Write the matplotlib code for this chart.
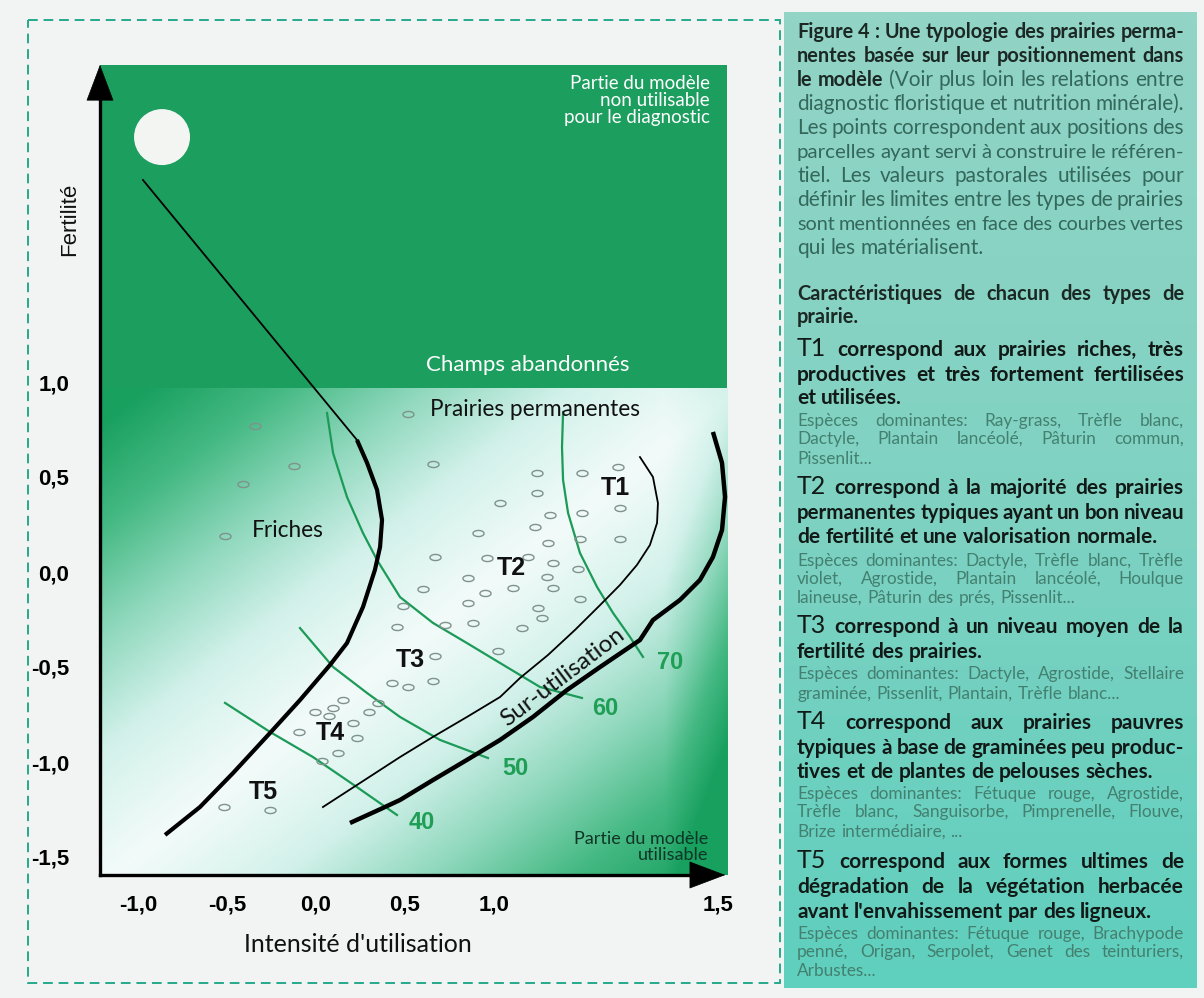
import numpy as np
import matplotlib
matplotlib.use('Agg')
import matplotlib.pyplot as plt
from matplotlib.patches import Rectangle, Ellipse
from matplotlib.path import Path
from matplotlib.colors import LinearSegmentedColormap

W, H = 1204, 998

# ---- values on the chart's own scale (intensity, fertility) ----
xtick_pos = [-1.0, -0.5, 0.0, 0.5, 1.0, 2.26]
xtick_lab = ['-1,0', '-0,5', '0,0', '0,5', '1,0', '1,5']
ytick_pos = [1.0, 0.5, 0.0, -0.5, -1.0, -1.5]
ytick_lab = ['1,0', '0,5', '0,0', '-0,5', '-1,0', '-1,5']

# parcels used to build the model
pts_x = [-0.343, -0.124, -0.410, -0.511, 0.517, 0.657, 0.669, 0.601, 0.489, 0.455,
         0.669, 1.242, 1.494, 1.697, 1.242, 1.034, 1.494, 1.708, 1.315, 1.230,
         0.910, 1.483, 1.708, 1.303, 0.961, 1.191, 1.331, 1.472, 1.298, 0.854,
         1.107, 1.331, 0.949, 1.483, 0.854, 1.247, 1.270, 0.725, 0.882, 1.157,
         1.022, 0.427, 0.517, 0.657, 0.152, 0.096, -0.006, 0.073, 0.348, 0.298,
         0.208, -0.096, 0.230, 0.124, 0.034, -0.517, -0.258]
pts_y = [0.768, 0.558, 0.463, 0.189, 0.832, 0.568, 0.079, -0.089, -0.179, -0.289,
         -0.442, 0.521, 0.521, 0.553, 0.416, 0.363, 0.311, 0.337, 0.300, 0.237,
         0.205, 0.174, 0.174, 0.153, 0.074, 0.079, 0.047, 0.016, -0.026, -0.032,
         -0.084, -0.084, -0.111, -0.142, -0.163, -0.189, -0.242, -0.279, -0.268, -0.295,
         -0.416, -0.584, -0.605, -0.574, -0.674, -0.716, -0.737, -0.758, -0.689, -0.737,
         -0.795, -0.842, -0.874, -0.953, -0.995, -1.237, -1.253]

# boundary Champs abandonnés / Friches (thin part) and Friches / prairies (thick)
abandon_x = [-0.972, 0.230]
abandon_y = [2.063, 0.695]
friches_x = [0.230, 0.287, 0.343, 0.371, 0.360, 0.331, 0.264, 0.174, 0.079, -0.090,
             -0.258, -0.466, -0.652, -0.848]
friches_y = [0.695, 0.574, 0.432, 0.274, 0.132, 0.011, -0.184, -0.374, -0.489, -0.674,
             -0.847, -1.058, -1.237, -1.384]
# over-use limits
surutil_x = [1.820, 1.893, 1.921, 1.916, 1.876, 1.803, 1.708, 1.596, 1.455, 1.303,
             1.146, 1.034, 0.848, 0.657, 0.472, 0.039]
surutil_y = [0.605, 0.500, 0.363, 0.258, 0.142, 0.037, -0.068, -0.174, -0.305, -0.437,
             -0.558, -0.658, -0.763, -0.868, -0.974, -1.237]
limit_x = [2.230, 2.281, 2.298, 2.281, 2.230, 2.157, 2.045, 1.893, 1.820, 1.596,
           1.410, 1.219, 1.034, 0.848, 0.657, 0.472, 0.376, 0.191]
limit_y = [0.737, 0.574, 0.395, 0.221, 0.079, -0.042, -0.147, -0.253, -0.358, -0.500,
           -0.621, -0.763, -0.884, -0.989, -1.095, -1.200, -1.242, -1.321]

# pastoral value curves
vp_labels = ['70', '60', '50', '40']
vp_x = [[1.388, 1.382, 1.388, 1.416, 1.483, 1.579, 1.669, 1.764, 1.837],
        [0.062, 0.096, 0.174, 0.264, 0.343, 0.472, 0.657, 0.848, 1.034, 1.258, 1.494],
        [-0.090, 0.096, 0.287, 0.472, 0.697, 0.966],
        [-0.511, -0.258, -0.017, 0.230, 0.455]]
vp_y = [[0.842, 0.658, 0.484, 0.311, 0.100, -0.079, -0.216, -0.342, -0.447],
        [0.837, 0.626, 0.395, 0.205, 0.063, -0.132, -0.268, -0.374, -0.479, -0.605, -0.663],
        [-0.295, -0.500, -0.637, -0.763, -0.884, -0.979],
        [-0.689, -0.842, -0.974, -1.132, -1.279]]
vp_lab_x = [1.989, 1.624, 1.118, 0.596]
vp_lab_y = [-0.474, -0.716, -1.032, -1.321]

types = ['T1', 'T2', 'T3', 'T4', 'T5']
types_x = [1.680, 1.096, 0.528, 0.079, -0.298]
types_y = [0.442, 0.021, -0.463, -0.847, -1.158]

# ---- right-hand text ----
text_lines = [
    (38, [('Figure 4 : Une typologie des prairies perma-', 'capb')], True),
    (62, [('nentes basée sur leur positionnement dans', 'capb')], True),
    (86, [('le modèle', 'capb'), ('(Voir plus loin les relations entre', 'cap')], True),
    (110, [('diagnostic floristique et nutrition minérale).', 'cap')], True),
    (134, [('Les points correspondent aux positions des', 'cap')], True),
    (158, [('parcelles ayant servi à construire le référen-', 'cap')], True),
    (182, [('tiel. Les valeurs pastorales utilisées pour', 'cap')], True),
    (206, [('définir les limites entre les types de prairies', 'cap')], True),
    (230, [('sont mentionnées en face des courbes vertes', 'cap')], True),
    (254, [('qui les matérialisent.', 'cap')], False),
    (300, [('Caractéristiques de chacun des types de', 'head')], True),
    (323, [('prairie.', 'head')], False),
    (356, [('T1', 'tnum'), ('correspond aux prairies riches, très', 'tb')], True),
    (381, [('productives et très fortement fertilisées', 'tb')], True),
    (404, [('et utilisées.', 'tb')], False),
    (426, [('Espèces dominantes: Ray-grass, Trèfle blanc,', 'sp')], True),
    (444, [('Dactyle, Plantain lancéolé, Pâturin commun,', 'sp')], True),
    (464, [('Pissenlit...', 'sp')], False),
    (494, [('T2', 'tnum'), ('correspond à la majorité des prairies', 'tb')], True),
    (519, [('permanentes typiques ayant un bon niveau', 'tb')], True),
    (543, [('de fertilité et une valorisation normale.', 'tb')], False),
    (566, [('Espèces dominantes: Dactyle, Trèfle blanc, Trèfle', 'sp')], True),
    (584, [('violet, Agrostide, Plantain lancéolé, Houlque', 'sp')], True),
    (603, [('laineuse, Pâturin des prés, Pissenlit...', 'sp')], False),
    (633, [('T3', 'tnum'), ('correspond à un niveau moyen de la', 'tb')], True),
    (658, [('fertilité des prairies.', 'tb')], False),
    (679, [('Espèces dominantes: Dactyle, Agrostide, Stellaire', 'sp')], True),
    (699, [('graminée, Pissenlit, Plantain, Trèfle blanc...', 'sp')], False),
    (729, [('T4', 'tnum'), ('correspond aux prairies pauvres', 'tb')], True),
    (754, [('typiques à base de graminées peu produc-', 'tb')], True),
    (778, [('tives et de plantes de pelouses sèches.', 'tb')], False),
    (799, [('Espèces dominantes: Fétuque rouge, Agrostide,', 'sp')], True),
    (817, [('Trèfle blanc, Sanguisorbe, Pimprenelle, Flouve,', 'sp')], True),
    (837, [('Brize intermédiaire, ...', 'sp')], False),
    (868, [('T5', 'tnum'), ('correspond aux formes ultimes de', 'tb')], True),
    (893, [('dégradation de la végétation herbacée', 'tb')], True),
    (918, [('avant l\'envahissement par des ligneux.', 'tb')], False),
    (939, [('Espèces dominantes: Fétuque rouge, Brachypode', 'sp')], True),
    (957, [('penné, Origan, Serpolet, Genet des teinturiers,', 'sp')], True),
    (976, [('Arbustes...', 'sp')], False),
]

styles = {
    'capb': dict(family='Lato', weight='bold', size=14.3, color='#1b2824'),
    'cap': dict(family='Lato', size=15, color='#33685b'),
    'head': dict(family='Lato', weight='bold', size=14.4, color='#1b2824'),
    'tnum': dict(family='Lato', size=18, color='#111a17'),
    'tb': dict(family='Lato', weight='bold', size=15, color='#111a17'),
    'sp': dict(family='Lato', size=12.4, color='#43806f'),
}

fig = plt.figure(figsize=(W / 100, H / 100), dpi=100)
fig.patch.set_facecolor('#f2f4f3')

# page furniture in pixel coordinates
bg = fig.add_axes([0, 0, 1, 1])
bg.set_xlim(0, W)
bg.set_ylim(H, 0)
bg.axis('off')
bg.add_patch(Rectangle((28, 20), 752, 963, fill=False, ec='#25a98c', lw=1.4,
                       ls=(0, (5, 3))))
panel = np.linspace(0, 1, 100)[:, None] * np.ones((1, 2))
panel_cmap = LinearSegmentedColormap.from_list('panel', ['#92d4c6', '#7fd2c2', '#5fcfbe'])
bg.imshow(panel, cmap=panel_cmap, extent=[784, 1197, 988, 12], aspect='auto', zorder=1)

renderer = fig.canvas.get_renderer()
x_left, x_right = 797, 1184
target = x_right - x_left
for base, segs, justify in text_lines:
    words = []
    for txt, st in segs:
        for w in txt.split():
            words.append((w, st))
    objs = [bg.text(0, base, w, ha='left', va='baseline', zorder=3, **styles[st])
            for w, st in words]
    widths = [o.get_window_extent(renderer).width for o in objs]
    min_gap = 4.0
    natural = sum(widths) + min_gap * (len(objs) - 1)
    if natural > target:
        # squeeze the line a little so it fits the column
        k = (target - min_gap * (len(objs) - 1)) / sum(widths)
        for o in objs:
            o.set_fontsize(o.get_fontsize() * k)
        widths = [o.get_window_extent(renderer).width for o in objs]
    if justify and len(objs) > 1:
        gap = (target - sum(widths)) / (len(objs) - 1)
    else:
        gap = 5.0
    x = x_left
    for o, wd in zip(objs, widths):
        o.set_x(x)
        x += wd + gap

# ---- the model chart ----
px0, px1, py0, py1 = 100, 740, 55, 875
ax = fig.add_axes([px0 / W, 1 - py1 / H, (px1 - px0) / W, (py1 - py0) / H])
ax.patch.set_alpha(0)
x_lo, x_hi = (px0 - 316) / 178, (px1 - 316) / 178
y_lo, y_hi = (572 - py1) / 190, (572 - py0) / 190
ax.set_xlim(x_lo, x_hi)
ax.set_ylim(y_lo, y_hi)
for s in ax.spines.values():
    s.set_visible(False)

green_right = 2.309
green_top = 2.668
green_mid = 0.968

ax.add_patch(Rectangle((x_lo, green_mid), green_right - x_lo, green_top - green_mid,
                       fc='#1b9e5e', ec='none', zorder=0))

# background shading of the usable part
u = np.linspace(0, 1, 300)[None, :]
v = np.linspace(0, 1, 240)[:, None]
g = np.abs(u + v - 1.02) * 1.05 + np.clip(u - 0.9, 0, None) * 2.5
g = np.clip(g, 0, 1) ** 1.1
shade = LinearSegmentedColormap.from_list(
    'shade', ['#f2fbf9', '#d2f1ea', '#8fd8bd', '#45b983', '#18a05f'])
ax.imshow(g, cmap=shade, vmin=0, vmax=1, extent=[x_lo, green_right, y_lo, green_mid],
          origin='upper', aspect='auto', interpolation='bilinear', zorder=0)

ax.add_patch(Ellipse((-0.865, 2.289), 56 / 178, 56 / 190, fc='#f3f5f3', ec='none', zorder=1))

# curves
ax.plot(abandon_x, abandon_y, color='k', lw=1.3, zorder=3)
ax.plot(friches_x, friches_y, color='k', lw=3.0, zorder=3, solid_capstyle='butt')
ax.plot(surutil_x, surutil_y, color='k', lw=1.3, zorder=3)
ax.plot(limit_x, limit_y, color='k', lw=3.2, zorder=3, solid_capstyle='butt')
for cx, cy in zip(vp_x, vp_y):
    ax.plot(cx, cy, color='#1c9a57', lw=1.6, zorder=2)
for lab, lx, ly in zip(vp_labels, vp_lab_x, vp_lab_y):
    ax.text(lx, ly, lab, color='#1f9e55', fontsize=17, fontweight='bold',
            family='Liberation Sans', ha='center', va='center', zorder=4)

t = np.linspace(0, 2 * np.pi, 40)
ell = Path(np.column_stack([np.cos(t), 0.55 * np.sin(t)]))
ax.plot(pts_x, pts_y, ls='none', marker=ell, ms=8, mfc='none', mec='#7f928c',
        mew=1.0, zorder=2)

for lab, tx, ty in zip(types, types_x, types_y):
    ax.text(tx, ty, lab, fontsize=18, fontweight='bold', family='Liberation Sans',
            ha='center', va='center', color='#111', zorder=4)

# axis arrows
ax.plot([x_lo, x_lo], [y_lo, 2.50], color='k', lw=2.4, zorder=5, clip_on=False)
ax.plot([x_lo, 2.13], [y_lo, y_lo], color='k', lw=2.4, zorder=5, clip_on=False)
ax.annotate('', xy=(x_lo, 2.684), xytext=(x_lo, 2.40),
            arrowprops=dict(arrowstyle='-|>,head_length=0.45,head_width=0.17',
                            mutation_scale=55, color='k', lw=0.5), zorder=5,
            annotation_clip=False)
ax.annotate('', xy=(2.315, y_lo), xytext=(2.05, y_lo),
            arrowprops=dict(arrowstyle='-|>,head_length=0.45,head_width=0.17',
                            mutation_scale=55, color='k', lw=0.5), zorder=5,
            annotation_clip=False)

ax.set_xticks(xtick_pos, xtick_lab)
ax.set_yticks(ytick_pos, ytick_lab)
ax.tick_params(length=0, labelsize=16)
ax.tick_params(axis='x', pad=14)
ax.tick_params(axis='y', pad=22)
for lab in ax.get_xticklabels() + ax.get_yticklabels():
    lab.set_family('Liberation Sans')
    lab.set_fontweight('bold')

# annotations
ax.text(2.213, 2.479, 'Partie du modèle\nnon utilisable\npour le diagnostic', color='white',
        family='Lato', fontsize=13.5, ha='right', va='center', linespacing=1.0, zorder=4)
ax.text(1.191, 1.089, 'Champs abandonnés', color='white', family='Lato', fontsize=16,
        ha='center', va='center', zorder=4)
ax.text(1.230, 0.853, 'Prairies permanentes', color='#111', family='Lato', fontsize=16.3,
        ha='center', va='center', zorder=4)
ax.text(-0.157, 0.216, 'Friches', color='#111', family='Lato', fontsize=16.3,
        ha='center', va='center', zorder=4)
ax.text(1.388, -0.552, 'Sur-utilisation', color='#111', family='Lato', fontsize=17.5,
        ha='center', va='center', rotation=37, rotation_mode='anchor', zorder=4)
ax.text(2.202, -1.447, 'Partie du modèle\nutilisable', color='#0e3526', family='Lato',
        fontsize=13, ha='right', va='center', linespacing=1.0, zorder=4)
ax.text(-1.382, 1.858, 'Fertilité', family='Liberation Sans', fontsize=16, rotation=90,
        ha='center', va='center', color='#111')
ax.text(0.236, -1.963, "Intensité d'utilisation", family='Lato', fontsize=18,
        ha='center', va='center', color='#111')

fig.savefig('out.png', dpi=100, facecolor=fig.get_facecolor())
